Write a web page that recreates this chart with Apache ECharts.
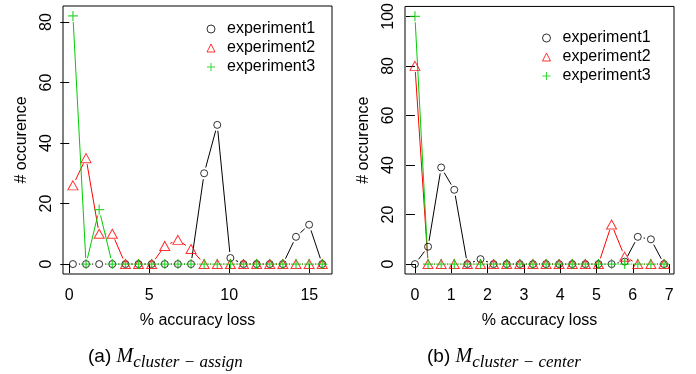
<!DOCTYPE html>
<html>
<head>
<meta charset="utf-8">
<script src="https://cdn.jsdelivr.net/npm/echarts@6/dist/echarts.min.js"></script>
<style>
  html, body { margin: 0; padding: 0; background: #fff; }
  #chart { width: 696px; height: 374px; }
</style>
</head>
<body>
<div id="chart"></div>
<script>
// panel (a): M_cluster-assign
const xA = [0.23, 1.05, 1.87, 2.69, 3.51, 4.33, 5.15, 5.97, 6.79, 7.61, 8.43, 9.25, 10.07, 10.89, 11.71, 12.53, 13.35, 14.17, 14.99, 15.81];
const exp1A = [0, 0, 0, 0, 0, 0, 0, 0, 0, 0, 30, 46, 2, 0, 0, 0, 0, 9, 13, 0];
const exp2A = [26, 35, 10, 10, 0, 0, 0, 6, 8, 5, 0, 0, 0, 0, 0, 0, 0, 0, 0, 0];
const exp3A = [82, 0, 18, 0, 0, 0, 0, 0, 0, 0, 0, 0, 0, 0, 0, 0, 0, 0, 0, 0];
const xTicksA = [0, 5, 10, 15];
const yTicksA = [0, 20, 40, 60, 80];

// panel (b): M_cluster-center
const xB = [0, 0.361, 0.722, 1.083, 1.444, 1.805, 2.166, 2.527, 2.888, 3.249, 3.61, 3.971, 4.332, 4.693, 5.054, 5.415, 5.776, 6.137, 6.498, 6.859];
const exp1B = [0, 7, 39, 30, 0, 2, 0, 0, 0, 0, 0, 0, 0, 0, 0, 0, 1, 11, 10, 0];
const exp2B = [80, 0, 0, 0, 0, 0, 0, 0, 0, 0, 0, 0, 0, 0, 0, 16, 3, 0, 0, 0];
const exp3B = [100, 0, 0, 0, 0, 0, 0, 0, 0, 0, 0, 0, 0, 0, 0, 0, 0, 0, 0, 0];
const xTicksB = [0, 1, 2, 3, 4, 5, 6, 7];
const yTicksB = [0, 20, 40, 60, 80, 100];

const names = ['experiment1', 'experiment2', 'experiment3'];
const colors = ['#000000', '#ff0000', '#00cd00'];
const plusPath = 'path://M4.4,0H5.6V4.4H10V5.6H5.6V10H4.4V5.6H0V4.4H4.4Z';
const GAP = 6;

let chart = echarts.init(document.getElementById('chart'));

function pairs(xs, ys) {
  let out = [];
  for (let i = 0; i < xs.length - 1; i++) {
    out.push([xs[i], ys[i], xs[i + 1], ys[i + 1]]);
  }
  return out;
}

// R type="b": segments stop short of each point
function gappedLine(color) {
  return function (params, api) {
    const p0 = api.coord([api.value(0), api.value(1)]);
    const p1 = api.coord([api.value(2), api.value(3)]);
    const dx = p1[0] - p0[0], dy = p1[1] - p0[1];
    const d = Math.sqrt(dx * dx + dy * dy);
    if (d <= 2 * GAP + 0.5) return null;
    const ux = dx / d, uy = dy / d;
    return {
      type: 'line',
      shape: { x1: p0[0] + ux * GAP, y1: p0[1] + uy * GAP, x2: p1[0] - ux * GAP, y2: p1[1] - uy * GAP },
      style: { stroke: color, lineWidth: 1 }
    };
  };
}

function symbolSeries(i, idx, xs, ys) {
  let s = {
    name: names[i],
    type: 'scatter',
    xAxisIndex: idx,
    yAxisIndex: idx,
    data: xs.map((x, k) => [x, ys[k]]),
    silent: true
  };
  if (i === 0) {
    s.symbol = 'circle';
    s.symbolSize = 7;
    s.itemStyle = { color: 'rgba(0,0,0,0)', borderColor: colors[0], borderWidth: 1 };
  } else if (i === 1) {
    s.symbol = 'triangle';
    s.symbolSize = [10, 9];
    s.itemStyle = { color: 'rgba(0,0,0,0)', borderColor: colors[1], borderWidth: 1 };
  } else {
    s.symbol = plusPath;
    s.symbolSize = 10;
    s.itemStyle = { color: colors[2] };
  }
  return s;
}

function panelSeries(idx, xs, sets) {
  let out = [];
  sets.forEach((ys, i) => {
    out.push({
      name: 'line' + idx + '_' + i,
      type: 'custom',
      xAxisIndex: idx,
      yAxisIndex: idx,
      renderItem: gappedLine(colors[i]),
      data: pairs(xs, ys),
      silent: true
    });
    out.push(symbolSeries(i, idx, xs, ys));
  });
  return out;
}

const font = 'Liberation Sans, Arial, sans-serif';
const serif = 'Liberation Serif, Times New Roman, serif';

function xAxisOf(idx, min, max, ticks) {
  return {
    type: 'value', gridIndex: idx, min: min, max: max,
    name: '% accuracy loss', nameLocation: 'middle', nameGap: 39,
    nameTextStyle: { fontFamily: font, fontSize: 16, color: '#000' },
    axisLine: { show: false },
    axisTick: { show: true, inside: false, length: 9, customValues: ticks, lineStyle: { color: '#000' } },
    axisLabel: { customValues: ticks, margin: 14, fontFamily: font, fontSize: 16, color: '#000' },
    splitLine: { show: false }
  };
}

function yAxisOf(idx, min, max, ticks) {
  return {
    type: 'value', gridIndex: idx, min: min, max: max,
    name: '# occurence', nameLocation: 'middle', nameGap: 33, nameRotate: 90,
    nameTextStyle: { fontFamily: font, fontSize: 16, color: '#000' },
    axisLine: { show: false },
    axisTick: { show: true, inside: false, length: 9, customValues: ticks, lineStyle: { color: '#000' } },
    axisLabel: { customValues: ticks, rotate: 90, margin: 8, fontFamily: font, fontSize: 16, color: '#000' },
    splitLine: { show: false }
  };
}

function legendOf(left, top) {
  return {
    orient: 'vertical', left: left, top: top, padding: 0,
    itemWidth: 8, itemHeight: 8, itemGap: 3,
    selectedMode: false,
    data: names,
    itemStyle: { borderWidth: 1 },
    textStyle: { fontFamily: font, fontSize: 16, color: '#000', padding: [0, 0, 0, 7] }
  };
}

const captionRich = {
  a: { fontFamily: font, fontSize: 19, fontWeight: 'normal', color: '#000', lineHeight: 28 },
  m: { fontFamily: serif, fontStyle: 'italic', fontWeight: 'normal', fontSize: 20, color: '#000', lineHeight: 28 },
  s: { fontFamily: serif, fontStyle: 'italic', fontWeight: 'normal', fontSize: 17, color: '#000', lineHeight: 28, verticalAlign: 'bottom' }
};

let option = {
  animation: false,
  backgroundColor: '#fff',
  title: [
    { text: '{a|(a) }{m|M}{s|cluster \u2212 assign}', left: 88, top: 343, padding: 0, textStyle: { fontWeight: 'normal', rich: captionRich } },
    { text: '{a|(b) }{m|M}{s|cluster \u2212 center}', left: 427, top: 343, padding: 0, textStyle: { fontWeight: 'normal', rich: captionRich } }
  ],
  grid: [
    { left: 63, top: 6, width: 269, height: 268, show: true, borderColor: '#000', borderWidth: 1, backgroundColor: 'transparent' },
    { left: 405, top: 6, width: 269, height: 268, show: true, borderColor: '#000', borderWidth: 1, backgroundColor: 'transparent' }
  ],
  xAxis: [
    xAxisOf(0, -0.39, 16.42, xTicksA),
    xAxisOf(1, -0.274, 7.134, xTicksB)
  ],
  yAxis: [
    yAxisOf(0, -3.28, 85.28, yTicksA),
    yAxisOf(1, -4, 104, yTicksB)
  ],
  legend: [legendOf(206.5, 21), legendOf(542, 30)],
  series: panelSeries(0, xA, [exp1A, exp2A, exp3A]).concat(panelSeries(1, xB, [exp1B, exp2B, exp3B]))
};

console.log('option series: ' + option.series.length);
chart.setOption(option);
</script>
</body>
</html>
